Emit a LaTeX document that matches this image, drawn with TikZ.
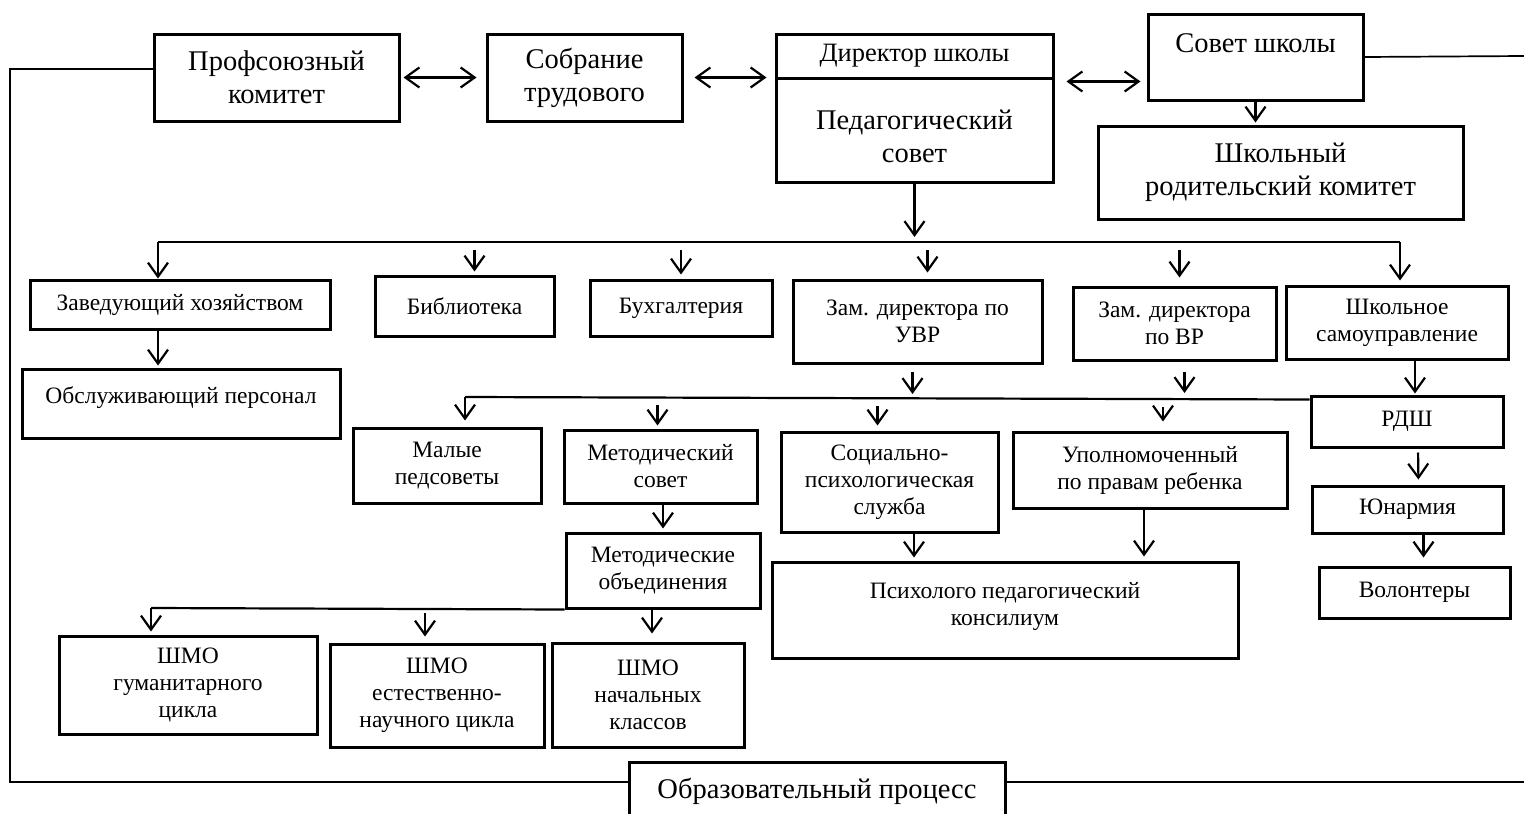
\documentclass[tikz,border=0pt]{standalone}
\usepackage{fontspec}
\setmainfont{Liberation Serif}
\usetikzlibrary{positioning,arrows.meta,calc}
\newcommand{\bigtxt}{\fontsize{28.5}{33}\selectfont}
\newcommand{\midtxt}{\fontsize{26.5}{30}\selectfont}
\newcommand{\smalltxt}{\fontsize{23.5}{27}\selectfont}

\begin{document}
\begin{tikzpicture}[x=1pt, y=-1pt,
   box/.style={draw, line width=3pt, align=center, inner sep=2pt, font=\smalltxt},
   bigbox/.style={box, font=\bigtxt},
   link/.style={line width=2.2pt},
   frame/.style={line width=1.7pt},
   >={Straight Barb[length=14pt, width=20pt]}]
  \useasboundingbox (0,0) rectangle (1524,814);

  % top row
  \node[bigbox, minimum width=245pt, minimum height=87pt] (prof) at (276.5,77.5) {Профсоюзный\\комитет};
  \node[bigbox, minimum width=195pt, minimum height=87pt] (sobr) at (584.5,77.5) {Собрание\\трудового};
  \node[box, font=\midtxt, minimum width=277pt, minimum height=44pt] (dir) at (914.5,56) {Директор школы};
  \node[bigbox, minimum width=277pt, minimum height=104pt] (ped) at (914.5,130) {\mbox{}\\Педагогический\\совет};
  \node[bigbox, minimum width=215pt, minimum height=86pt] (sovet) at (1255.5,57) {Совет школы\\[-6pt]\mbox{}};
  \node[bigbox, minimum width=365pt, minimum height=93pt] (rod) at (1280.5,172.5) {Школьный\\родительский комитет};

  \draw[link, <->, shorten <=3pt, shorten >=9pt] (prof.east) -- (sobr.west);
  \draw[link, <->, shorten <=11pt, shorten >=8pt] (sobr.east) -- (sobr.east -| ped.west);
  \draw[link, <->, shorten <=12pt, shorten >=6pt] ([yshift=-2pt]dir.south east) -- ([yshift=-2pt]dir.south east -| sovet.west);
  \draw[link, ->, shorten >=2pt] (sovet.south) -- (sovet.south |- rod.north);

  % second row
  \node[box, minimum width=300pt, minimum height=49pt] (zav) at (180,304.5) {Заведующий хозяйством};
  \node[box, minimum width=318pt, minimum height=69pt] (obsl) at (181,403.5) {Обслуживающий персонал\\[-10pt]\mbox{}};
  \node[box, minimum width=179pt, minimum height=60pt] (bib) at (464.5,306) {Библиотека};
  \node[box, minimum width=182pt, minimum height=56pt] (buh) at (681,308) {Бухгалтерия};
  \node[box, minimum width=249pt, minimum height=83pt] (uvr) at (917.5,321.5) {Зам. директора по\\УВР};
  \node[box, minimum width=203pt, minimum height=73pt] (vr) at (1174.5,323.5) {Зам. директора\\по ВР};
  \node[box, minimum width=222pt, minimum height=73pt] (sam) at (1397,322.5) {Школьное\\самоуправление};

  \coordinate (busL) at (158,242);
  \coordinate (busR) at (1400,242);
  \draw[link, ->, shorten >=5pt] (ped.south) -- (ped.south |- busL);
  \draw[link] (busL) -- (busR);
  \draw[link, ->] (busL) -- (busL |- zav.north);
  \draw[link, ->, shorten <=8pt, shorten >=3pt] ([xshift=10pt]bib.north |- busL) -- ([xshift=10pt]bib.north);
  \draw[link, ->, shorten <=8pt, shorten >=4pt] (buh.north |- busL) -- (buh.north);
  \draw[link, ->, shorten <=8pt, shorten >=6pt] ([xshift=10pt]uvr.north |- busL) -- ([xshift=10pt]uvr.north);
  \draw[link, ->, shorten <=8pt, shorten >=8pt] ([xshift=5pt]vr.north |- busL) -- ([xshift=5pt]vr.north);
  \draw[link, ->, shorten >=4pt] (busR) -- (busR |- sam.north);
  \draw[link, ->, shorten >=2pt] (busL |- zav.south) -- (busL |- obsl.north);

  % third row
  \node[box, minimum width=188pt, minimum height=75pt] (malye) at (447,465.5) {Малые\\педсоветы};
  \node[box, minimum width=193pt, minimum height=73pt] (metsov) at (660.5,466.5) {Методический\\совет};
  \node[box, minimum width=217pt, minimum height=100pt] (socps) at (889.5,482) {Социально-\\психологическая\\служба};
  \node[box, minimum width=274pt, minimum height=76pt] (upoln) at (1150,470) {Уполномоченный\\по правам ребенка};
  \node[box, minimum width=192pt, minimum height=51pt] (rdsh) at (1407,421.5) {РДШ};
  \node[box, minimum width=191pt, minimum height=47pt] (yun) at (1407.5,509.5) {Юнармия};
  \node[box, minimum width=191pt, minimum height=51pt] (vol) at (1414.5,592.5) {Волонтеры};

  \coordinate (bus2L) at (465,397);
  \draw[link, ->, shorten <=7pt, shorten >=3pt] ([xshift=-5pt]uvr.south) -- ([xshift=-5pt]uvr.south |- bus2L);
  \draw[link, ->, shorten <=10pt, shorten >=4pt] ([xshift=10pt]vr.south) -- ([xshift=10pt]vr.south |- bus2L);
  \draw[link] (bus2L) -- ([yshift=-5pt]rdsh.north west);
  \draw[link, ->, shorten >=6pt] (bus2L) -- (bus2L |- malye.north);
  \draw[link, ->, shorten <=8pt, shorten >=3pt] ([xshift=-3pt]metsov.north |- bus2L) -- ([xshift=-3pt]metsov.north);
  \draw[link, ->, shorten <=9pt, shorten >=5pt] ([xshift=-12pt]socps.north |- bus2L) -- ([xshift=-12pt]socps.north);
  \draw[link, ->, shorten <=10pt, shorten >=9pt] ([xshift=13pt]upoln.north |- bus2L) -- ([xshift=13pt]upoln.north);
  \draw[link, ->, shorten >=1pt] ([xshift=8pt]rdsh.north |- sam.south) -- ([xshift=8pt]rdsh.north);
  \draw[link, ->, shorten <=4pt, shorten >=5pt] ([xshift=11pt]rdsh.south) -- ([xshift=11pt]yun.north);
  \draw[link, ->, shorten >=8pt] ([xshift=16pt]yun.south) -- ([xshift=16pt]yun.south |- vol.north);

  % fourth row
  \node[box, minimum width=194pt, minimum height=75pt] (metob) at (663,570.5) {Методические\\объединения};
  \node[box, minimum width=466pt, minimum height=96pt] (ppk) at (1005,610) {Психолого педагогический\\консилиум\\[-14pt]\mbox{}};

  \draw[link, ->, shorten >=3pt] (metsov.south -| metob.north) -- (metob.north);
  \draw[link, ->, shorten >=3pt] ([xshift=24.5pt]socps.south) -- ([xshift=24.5pt]socps.south |- ppk.north);
  \draw[link, ->, shorten >=4pt] ([xshift=-6pt]upoln.south) -- ([xshift=-6pt]upoln.south |- ppk.north);

  % ШМО
  \node[box, minimum width=258pt, minimum height=98pt] (gum) at (188,685) {ШМО\\гуманитарного\\цикла};
  \node[box, minimum width=214pt, minimum height=103pt] (est) at (437,695.5) {ШМО\\естественно-\\научного цикла};
  \node[box, minimum width=192pt, minimum height=104pt] (nach) at (648,695) {ШМО\\начальных\\классов};

  \coordinate (bus3L) at (151,608);
  \draw[link] (bus3L) -- (metob.south west);
  \draw[link, ->, shorten >=3pt] (bus3L) -- (bus3L |- gum.north);
  \draw[link, ->, shorten <=5pt, shorten >=6pt] ([xshift=-12pt]est.north |- bus3L) -- ([xshift=-12pt]est.north);
  \draw[link, ->, shorten >=8pt] ([xshift=4pt]nach.north |- metob.south) -- ([xshift=4pt]nach.north);

  % образовательный процесс
  \node[bigbox, minimum width=376pt, minimum height=58pt] (obraz) at (817,791) {Образовательный процесс};
  \coordinate (frameL) at (10,782);
  \coordinate (frameR1) at (1524,56);
  \coordinate (frameR2) at (1524,782);
  \draw[frame] ([yshift=8.5pt]prof.west) -| (frameL) -- ([yshift=9pt]obraz.west);
  \draw[frame] (sovet.east) -- (frameR1);
  \draw[frame] ([yshift=9pt]obraz.east) -- (frameR2);
\end{tikzpicture}
\end{document}
